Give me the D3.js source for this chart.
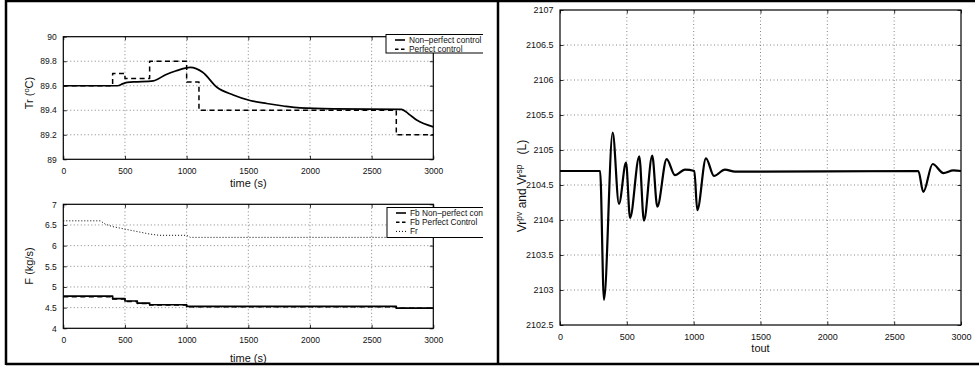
<!DOCTYPE html>
<html>
<head>
<meta charset="utf-8">
<script src="https://cdn.jsdelivr.net/npm/d3@7"></script>
<style>
  html, body { margin: 0; padding: 0; background: #fff; }
  svg { display: block; font-family: "Liberation Sans", Arial, Helvetica, sans-serif; }
</style>
</head>
<body>
<svg id="fig" width="979" height="367"></svg>
<script>
// ---- tick labels ----
const timeTicks = [0, 500, 1000, 1500, 2000, 2500, 3000];
const trTicks = [89, 89.2, 89.4, 89.6, 89.8, 90];
const flowTicks = [4, 4.5, 5, 5.5, 6, 6.5, 7];
const volTicks = [2102.5, 2103, 2103.5, 2104, 2104.5, 2105, 2105.5, 2106, 2106.5, 2107];

// ---- reactor temperature (°C) ----
const trPerfectTime = [0, 400, 500, 700, 1000, 1100, 2700, 3000];
const trPerfectValue = [89.6, 89.7, 89.66, 89.8, 89.63, 89.4, 89.2, 89.2];
const trNonPerfectTime = [0, 440, 480, 520, 600, 730, 830, 910, 1030, 1130, 1243, 1378, 1514, 1649, 1784, 1919, 2200, 2740, 2800, 2865, 3000];
const trNonPerfectValue = [89.6, 89.6, 89.615, 89.628, 89.632, 89.64, 89.69, 89.72, 89.75, 89.71, 89.59, 89.525, 89.48, 89.455, 89.435, 89.42, 89.412, 89.408, 89.37, 89.32, 89.265];

// ---- flows (kg/s) ----
const fbStepTime = [0, 400, 500, 600, 700, 1000, 2700, 3000];
const fbNonPerfectValue = [4.78, 4.72, 4.66, 4.61, 4.57, 4.53, 4.49, 4.49];
const fbPerfectValue = [4.76, 4.71, 4.65, 4.6, 4.56, 4.52, 4.485, 4.485];
const frTime = [0, 300, 340, 400, 500, 600, 700, 780, 1000, 1030, 3000];
const frValue = [6.6, 6.6, 6.52, 6.46, 6.4, 6.34, 6.28, 6.25, 6.25, 6.2, 6.2];

// ---- reactor volume (L) ----
const vrTime = [0, 300, 329, 394, 441, 494, 524, 593, 628, 690, 728, 798, 860, 935, 1005, 1027, 1092, 1152, 1234, 1309, 2681, 2718, 2788, 2868, 2943, 3000];
const vrValue = [2104.7, 2104.7, 2102.86, 2105.25, 2104.23, 2104.82, 2104.03, 2104.91, 2103.99, 2104.92, 2104.19, 2104.87, 2104.64, 2104.72, 2104.7, 2104.14, 2104.88, 2104.63, 2104.72, 2104.69, 2104.7, 2104.4, 2104.8, 2104.67, 2104.71, 2104.7];

const svg = d3.select("#fig");
const zip = (ts, vs) => ts.map((t, i) => [t, vs[i]]);
const ink = "#111";

// page frame
const frame = svg.append("g").attr("stroke", "#000").attr("stroke-width", 2.5);
frame.append("line").attr("x1", 6).attr("x2", 975).attr("y1", 1).attr("y2", 1);
frame.append("line").attr("x1", 6).attr("x2", 979).attr("y1", 364).attr("y2", 364);
frame.append("line").attr("x1", 6).attr("x2", 6).attr("y1", 0).attr("y2", 365);
frame.append("line").attr("x1", 498).attr("x2", 498).attr("y1", 0).attr("y2", 365);

// clip for the left legends, which run off the panel edge
svg.append("defs").append("clipPath").attr("id", "leftClip")
  .append("rect").attr("x", 0).attr("y", 0).attr("width", 483).attr("height", 367);

function makeAxes(cfg) {
  const x = d3.scaleLinear().domain([0, 3000]).range([cfg.left, cfg.right]);
  const y = d3.scaleLinear().domain(cfg.yDomain).range([cfg.bottom, cfg.top]);
  const g = svg.append("g");

  // dotted grid
  const grid = g.append("g").attr("stroke", "#666").attr("stroke-width", 0.8)
    .attr("stroke-dasharray", "1,2.5").attr("fill", "none");
  timeTicks.slice(1, -1).forEach(t => {
    grid.append("line").attr("x1", x(t)).attr("x2", x(t)).attr("y1", cfg.top).attr("y2", cfg.bottom);
  });
  cfg.yTicks.slice(1, -1).forEach(v => {
    grid.append("line").attr("x1", cfg.left).attr("x2", cfg.right).attr("y1", y(v)).attr("y2", y(v));
  });

  // axes with inward ticks on all sides
  const tl = 3.5;
  const bottomAx = d3.axisBottom(x).tickValues(timeTicks).tickSizeInner(-tl).tickSizeOuter(0).tickPadding(5 + tl).tickFormat(d3.format("d"));
  const topAx = d3.axisTop(x).tickValues(timeTicks).tickSizeInner(-tl).tickSizeOuter(0).tickFormat("");
  const leftAx = d3.axisLeft(y).tickValues(cfg.yTicks).tickSizeInner(-tl).tickSizeOuter(0).tickPadding(3 + tl).tickFormat(d => String(d));
  const rightAx = d3.axisRight(y).tickValues(cfg.yTicks).tickSizeInner(-tl).tickSizeOuter(0).tickFormat("");

  const styleAxis = sel => {
    sel.select(".domain").remove();
    sel.selectAll(".tick line").attr("stroke", "#000").attr("stroke-width", 0.8);
    sel.selectAll("text").attr("font-size", cfg.tickFont).attr("fill", ink)
      .attr("font-family", '"Liberation Sans", Arial, sans-serif');
  };
  g.append("g").attr("transform", `translate(0,${cfg.bottom})`).call(bottomAx).call(styleAxis);
  g.append("g").attr("transform", `translate(0,${cfg.top})`).call(topAx).call(styleAxis);
  g.append("g").attr("transform", `translate(${cfg.left},0)`).call(leftAx).call(styleAxis);
  g.append("g").attr("transform", `translate(${cfg.right},0)`).call(rightAx).call(styleAxis);

  g.append("rect").attr("x", cfg.left).attr("y", cfg.top)
    .attr("width", cfg.right - cfg.left).attr("height", cfg.bottom - cfg.top)
    .attr("fill", "none").attr("stroke", "#000").attr("stroke-width", 1.2);

  return { x, y, g };
}

function drawLine(ax, data, curve, opts) {
  const line = d3.line().x(d => ax.x(d[0])).y(d => ax.y(d[1])).curve(curve);
  ax.g.append("path").datum(data).attr("d", line)
    .attr("fill", "none").attr("stroke", "#000")
    .attr("stroke-width", opts.width)
    .attr("stroke-dasharray", opts.dash || null)
    .attr("stroke-linejoin", "round");
}

function label(x, y, text, size, rotate) {
  return svg.append("text")
    .attr("transform", `translate(${x},${y})` + (rotate ? " rotate(-90)" : ""))
    .attr("text-anchor", "middle").attr("font-size", size).attr("fill", ink).text(text);
}

// ---------- top-left: Tr ----------
const axTr = makeAxes({ left: 63.3, right: 433.3, top: 36.7, bottom: 159.3,
  yDomain: [89, 90], yTicks: trTicks, tickFont: 8.5 });
drawLine(axTr, zip(trPerfectTime, trPerfectValue), d3.curveStepAfter, { width: 1.5, dash: "5,3.5" });
drawLine(axTr, zip(trNonPerfectTime, trNonPerfectValue), d3.curveMonotoneX, { width: 1.7 });

label(248.3, 187, "time (s)", 11);
const trLabel = label(33, 93, "", 11, true);
trLabel.append("tspan").text("Tr (");
trLabel.append("tspan").attr("font-size", 7.5).attr("dy", -4).text("o");
trLabel.append("tspan").attr("dy", 4).text("C)");

// ---------- bottom-left: flows ----------
const axF = makeAxes({ left: 63.3, right: 433.3, top: 204.3, bottom: 328.3,
  yDomain: [4, 7], yTicks: flowTicks, tickFont: 8.5 });
drawLine(axF, zip(frTime, frValue), d3.curveLinear, { width: 1, dash: "1,2" });
drawLine(axF, zip(fbStepTime, fbNonPerfectValue), d3.curveStepAfter, { width: 1.7 });
drawLine(axF, zip(fbStepTime, fbPerfectValue), d3.curveStepAfter, { width: 1.4, dash: "5,3.5" });

label(248.3, 361.5, "time (s)", 11);
label(33, 266, "F (kg/s)", 11, true);

// ---------- legends (left panel) ----------
function legend(x0, y0, rows, h) {
  const g = svg.append("g").attr("clip-path", "url(#leftClip)");
  g.append("rect").attr("x", x0).attr("y", y0).attr("width", 130).attr("height", h)
    .attr("fill", "#fff").attr("stroke", "#000").attr("stroke-width", 1);
  rows.forEach((r, i) => {
    const yy = y0 + 5.5 + i * 9.2;
    g.append("line").attr("x1", x0 + 9).attr("x2", x0 + 19).attr("y1", yy).attr("y2", yy)
      .attr("stroke", "#000").attr("stroke-width", r.width)
      .attr("stroke-dasharray", r.dash || null);
    g.append("text").attr("x", x0 + 23).attr("y", yy + 3).attr("font-size", 8.3)
      .attr("fill", ink).text(r.label);
  });
}
legend(386, 34.5, [
  { label: "Non\u2013perfect control", width: 1.6 },
  { label: "Perfect control", width: 1.5, dash: "3.5,2.5" }
], 18.5);
legend(387, 207.5, [
  { label: "Fb Non\u2013perfect control", width: 1.6 },
  { label: "Fb Perfect Control", width: 1.5, dash: "3.5,2.5" },
  { label: "Fr", width: 1, dash: "1,2" }
], 30);

// ---------- right: reactor volume ----------
const axV = makeAxes({ left: 560, right: 961, top: 10, bottom: 325,
  yDomain: [2102.5, 2107], yTicks: volTicks, tickFont: 9 });
drawLine(axV, zip(vrTime, vrValue), d3.curveMonotoneX, { width: 2.2 });

label(760.5, 352, "tout", 11);
const vLabel = label(526, 186, "", 12, true);
vLabel.append("tspan").text("Vr");
vLabel.append("tspan").attr("font-size", 8.5).attr("dy", -4.5).text("pv");
vLabel.append("tspan").attr("dy", 4.5).text(" and Vr");
vLabel.append("tspan").attr("font-size", 8.5).attr("dy", -4.5).text("sp");
vLabel.append("tspan").attr("dy", 4.5).text("\u00a0\u00a0\u00a0(L)");
</script>
</body>
</html>
